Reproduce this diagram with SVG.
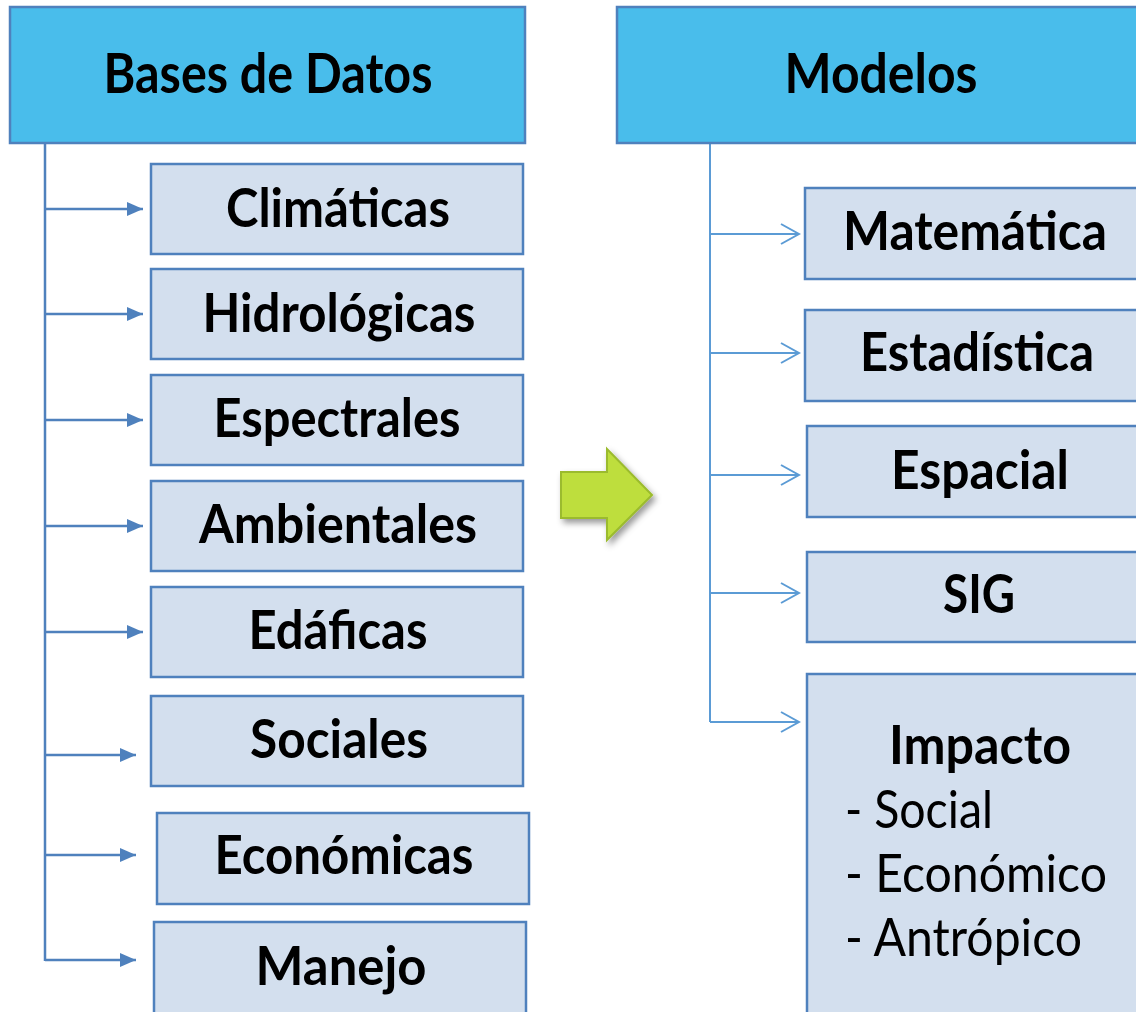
<svg xmlns="http://www.w3.org/2000/svg" width="1136" height="1012" viewBox="0 0 1136 1012">
<defs>
<style>
.hdr{fill:#49BDEB;stroke:#4F81BD;stroke-width:2.5}
.box{fill:#D3DFEE;stroke:#4F81BD;stroke-width:2.5}
.t{font-family:Lato,"Open Sans","DejaVu Sans",sans-serif;font-weight:bold;fill:#000;text-anchor:middle}
.h{font-size:55px}
.c{font-size:54px}
.r{font-family:Lato,"Open Sans","DejaVu Sans",sans-serif;font-weight:normal;font-size:53px;fill:#000}
.lc{fill:none;stroke:#4F81BD;stroke-width:2.5}
.rc{fill:none;stroke:#5B9BD5;stroke-width:2}
</style>
<marker id="fa" markerWidth="18" markerHeight="16" refX="17" refY="8" orient="auto" markerUnits="userSpaceOnUse">
<path d="M1,1 L17,8 L1,15 Z" fill="#4F81BD"/>
</marker>
<marker id="oa" markerWidth="22" markerHeight="24" refX="20" refY="12" orient="auto" markerUnits="userSpaceOnUse">
<path d="M2,2 L20,12 L2,22" fill="none" stroke="#5B9BD5" stroke-width="2"/>
</marker>
<filter id="sh" x="-30%" y="-30%" width="170%" height="170%">
<feDropShadow dx="3" dy="4" stdDeviation="3" flood-color="#000" flood-opacity="0.4"/>
</filter>
</defs>
<rect width="1136" height="1012" fill="#fff"/>

<g id="connectors">
<line class="lc" x1="45" y1="143" x2="45" y2="961"/>
<line class="lc" x1="45" y1="209" x2="143" y2="209" marker-end="url(#fa)"/>
<line class="lc" x1="45" y1="314" x2="143" y2="314" marker-end="url(#fa)"/>
<line class="lc" x1="45" y1="420" x2="143" y2="420" marker-end="url(#fa)"/>
<line class="lc" x1="45" y1="526" x2="143" y2="526" marker-end="url(#fa)"/>
<line class="lc" x1="45" y1="632" x2="143" y2="632" marker-end="url(#fa)"/>
<line class="lc" x1="45" y1="755" x2="136" y2="755" marker-end="url(#fa)"/>
<line class="lc" x1="45" y1="855" x2="136" y2="855" marker-end="url(#fa)"/>
<line class="lc" x1="45" y1="960" x2="136" y2="960" marker-end="url(#fa)"/>
<line class="rc" x1="710" y1="143" x2="710" y2="722"/>
<line class="rc" x1="710" y1="234" x2="799" y2="234" marker-end="url(#oa)"/>
<line class="rc" x1="710" y1="353" x2="799" y2="353" marker-end="url(#oa)"/>
<line class="rc" x1="710" y1="475" x2="799" y2="475" marker-end="url(#oa)"/>
<line class="rc" x1="710" y1="593" x2="799" y2="593" marker-end="url(#oa)"/>
<line class="rc" x1="710" y1="722" x2="799" y2="722" marker-end="url(#oa)"/>
</g>

<g id="bases-de-datos">
<rect class="hdr" x="10" y="7" width="515" height="136"/>
<text class="t h" x="268" y="93" textLength="329" lengthAdjust="spacingAndGlyphs">Bases de Datos</text>
</g>
<g id="modelos">
<rect class="hdr" x="617" y="7" width="530" height="136"/>
<text class="t h" x="881" y="93" textLength="193" lengthAdjust="spacingAndGlyphs">Modelos</text>
</g>

<g id="climaticas">
<rect class="box" x="151" y="164" width="372" height="90"/>
<text class="t c" x="338" y="227" textLength="224" lengthAdjust="spacingAndGlyphs">Climáticas</text>
</g>
<g id="hidrologicas">
<rect class="box" x="151" y="269" width="372" height="90"/>
<text class="t c" x="339" y="332" textLength="273" lengthAdjust="spacingAndGlyphs">Hidrológicas</text>
</g>
<g id="espectrales">
<rect class="box" x="151" y="375" width="372" height="90"/>
<text class="t c" x="337" y="437" textLength="247" lengthAdjust="spacingAndGlyphs">Espectrales</text>
</g>
<g id="ambientales">
<rect class="box" x="151" y="481" width="372" height="90"/>
<text class="t c" x="338" y="543" textLength="278" lengthAdjust="spacingAndGlyphs">Ambientales</text>
</g>
<g id="edaficas">
<rect class="box" x="151" y="587" width="372" height="90"/>
<text class="t c" x="338" y="649" textLength="179" lengthAdjust="spacingAndGlyphs">Edáficas</text>
</g>
<g id="sociales">
<rect class="box" x="151" y="696" width="372" height="90"/>
<text class="t c" x="339" y="758" textLength="178" lengthAdjust="spacingAndGlyphs">Sociales</text>
</g>
<g id="economicas">
<rect class="box" x="157" y="813" width="372" height="91"/>
<text class="t c" x="344" y="874" textLength="259" lengthAdjust="spacingAndGlyphs">Económicas</text>
</g>
<g id="manejo">
<rect class="box" x="154" y="922" width="372" height="100"/>
<text class="t c" x="341" y="985" textLength="171" lengthAdjust="spacingAndGlyphs">Manejo</text>
</g>

<g id="matematica">
<rect class="box" x="805" y="188" width="340" height="91"/>
<text class="t c" x="975" y="250" textLength="264" lengthAdjust="spacingAndGlyphs">Matemática</text>
</g>
<g id="estadistica">
<rect class="box" x="805" y="310" width="340" height="91"/>
<text class="t c" x="977" y="371" textLength="234" lengthAdjust="spacingAndGlyphs">Estadística</text>
</g>
<g id="espacial">
<rect class="box" x="807" y="426" width="340" height="91"/>
<text class="t c" x="980" y="489" textLength="178" lengthAdjust="spacingAndGlyphs">Espacial</text>
</g>
<g id="sig">
<rect class="box" x="807" y="552" width="340" height="90"/>
<text class="t c" x="979" y="613" textLength="72" lengthAdjust="spacingAndGlyphs">SIG</text>
</g>
<g id="impacto">
<rect class="box" x="807" y="674" width="340" height="350"/>
<text class="t c" x="980" y="764" textLength="182" lengthAdjust="spacingAndGlyphs">Impacto</text>
<text class="r" x="845" y="828" textLength="148" lengthAdjust="spacingAndGlyphs">- Social</text>
<text class="r" x="845" y="892" textLength="262" lengthAdjust="spacingAndGlyphs">- Económico</text>
<text class="r" x="845" y="956" textLength="237" lengthAdjust="spacingAndGlyphs">- Antrópico</text>
</g>

<g id="green-arrow">
<path d="M561,472 L607,472 L607,449 L652,495 L607,540 L607,518 L561,518 Z" fill="#BEDE3C" stroke="#9BBB2D" stroke-width="2" filter="url(#sh)"/>
</g>
</svg>
